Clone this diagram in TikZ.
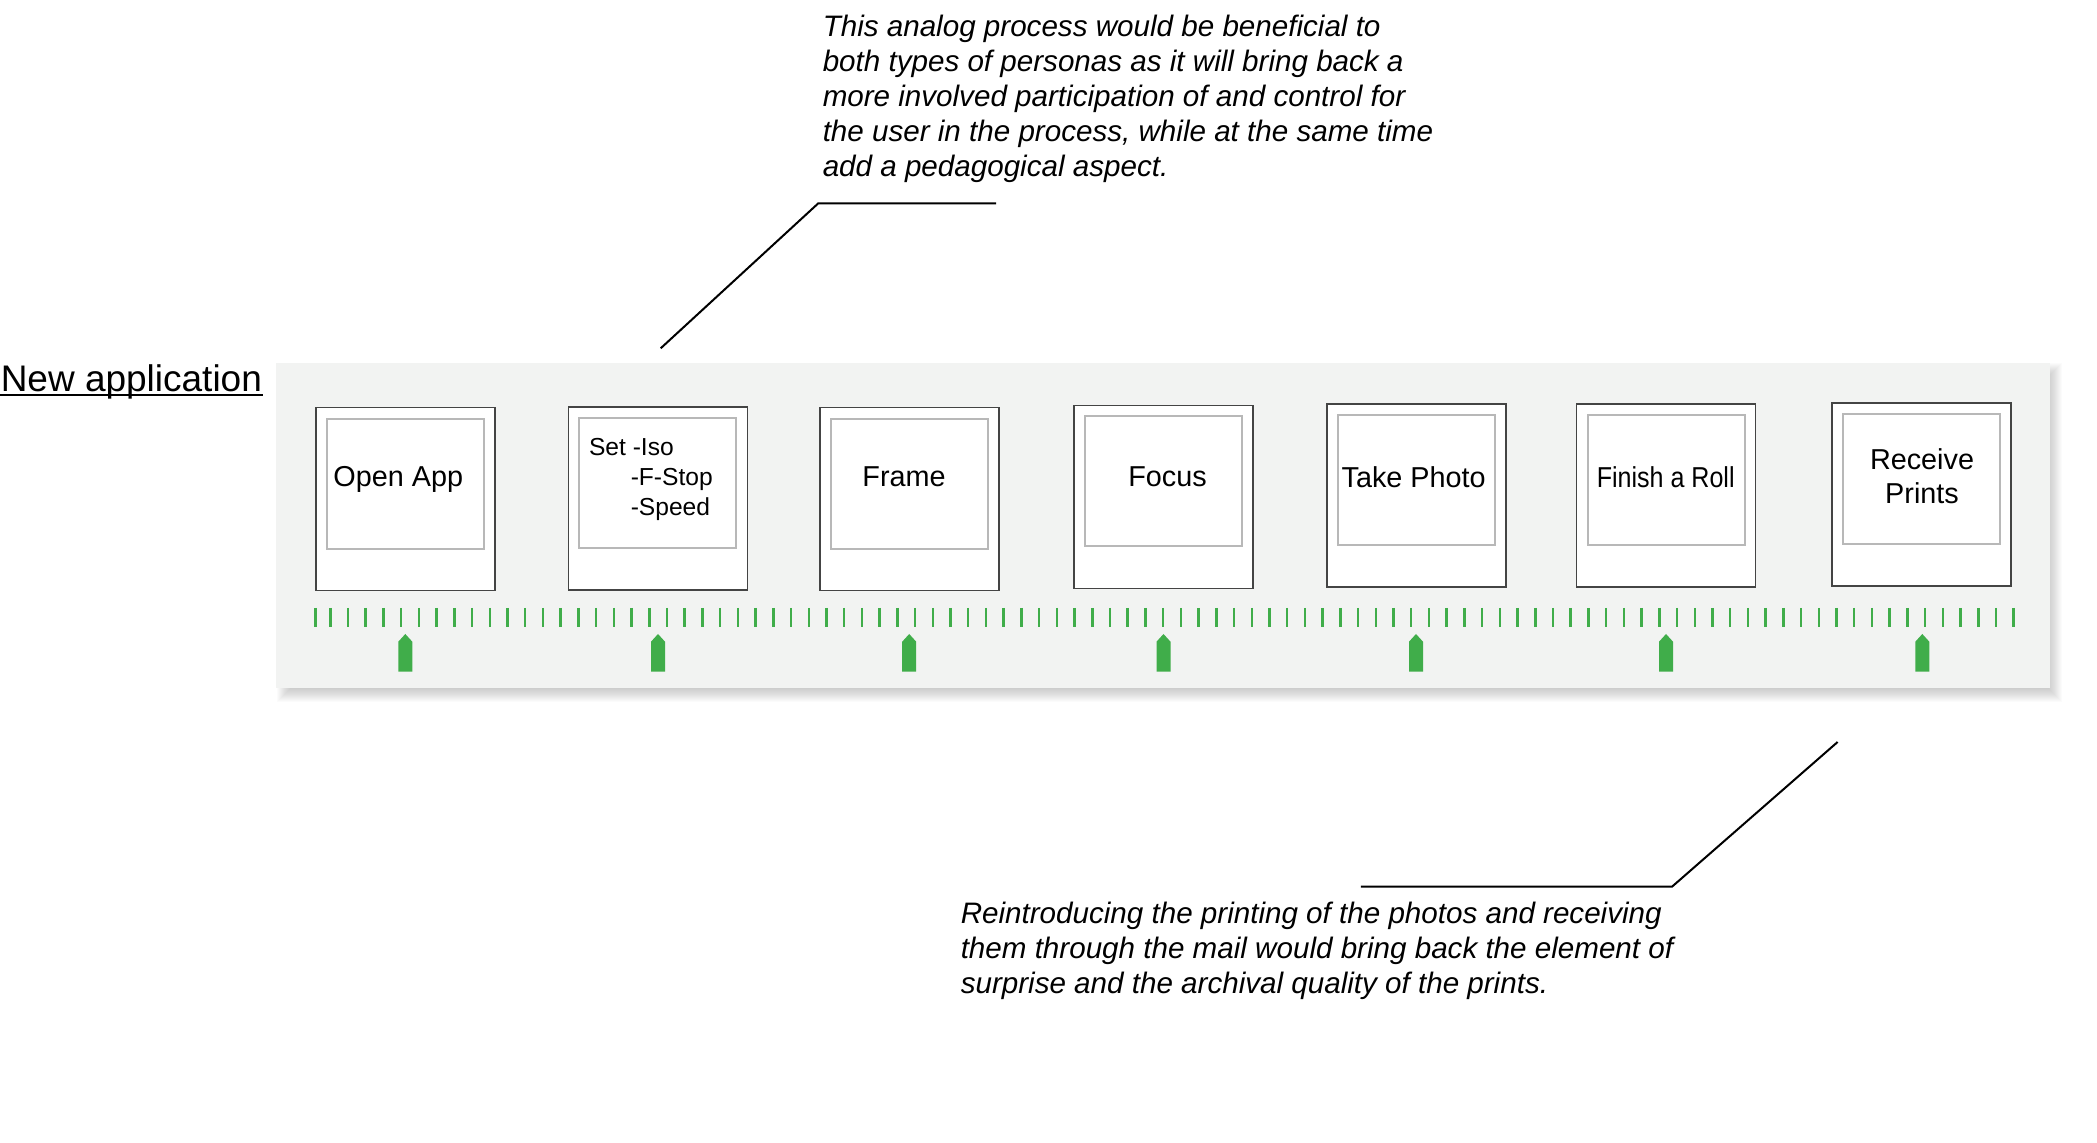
\documentclass[tikz,border=0pt]{standalone}
\usepackage{fontspec}
\setmainfont{Liberation Sans}

\definecolor{panelgray}{RGB}{242,243,242}
\definecolor{tickgreen}{RGB}{64,173,74}
\definecolor{framegray}{RGB}{68,68,68}
\definecolor{photogray}{RGB}{184,184,184}

\tikzset{every picture/.style={line width=0.75pt}}
\tikzset{
  polaroid/.style={draw=framegray, fill=white, line width=0.8},
  photo/.style={draw=photogray, line width=1},
  tick/.style={draw=tickgreen, line width=1.25},
  marker/.style={fill=tickgreen, draw=none},
  steplabel/.style={inner sep=0, font=\fontsize{14.4}{17}\selectfont},
  notetext/.style={inner sep=0, anchor=north west, align=left, font=\fontsize{14.8}{17.5}\selectfont\itshape},
  leader/.style={draw=black, line width=1}
}

\begin{document}
\begin{tikzpicture}[x=0.5pt,y=0.5pt,yscale=-1,xscale=1]
\useasboundingbox (0,0) rectangle (2097,1143);

%Shadow of the strip (soft)
\foreach \r in {-7,...,8}
  \fill [black, opacity=0.017] (285-\r,371-\r) rectangle (2054+\r,694+\r);
%Strip background
\fill [panelgray] (276,363) rectangle (2050,688);

%Polaroid frames: left x / top y
\foreach \fx/\fy in {315.7/407.7, 568.3/407, 820/407.7, 1074/405.5, 1327/404, 1576.5/404.3, 1832/403.3}{
  \draw [polaroid] (\fx,\fy) rectangle (\fx+179,\fy+183);
  \draw [photo] (\fx+11,\fy+11) rectangle (\fx+168,\fy+141);
}

%Green tick ruler
\draw [tick] (315.7,608) -- (315.7,627);
\foreach \k in {0,...,95}
  \draw [tick] (330.3+17.72*\k,608) -- (330.3+17.72*\k,627);

%Step markers
\foreach \mx in {405.3, 658, 909.2, 1163.5, 1416, 1666, 1922.3}
  \fill [marker] (\mx-7,671.7) -- (\mx-7,641.7) -- (\mx,634) -- (\mx+7,641.7) -- (\mx+7,671.7) -- cycle;

% Text Node
\draw (0,391.7) node (title) [anchor=base west, inner sep=0, font=\fontsize{18.5}{22}\selectfont] {New application};
\draw [line width=1] ([yshift=1.6pt]title.base west) -- ([yshift=1.6pt]title.base east);

% Text Node
\draw (332.7,486.7) node (lblOpen) [steplabel, anchor=base west] {Open App};
% Text Node
\draw (588.3,456) node (lblSet) [steplabel, anchor=base west, font=\fontsize{12.3}{15}\selectfont] {Set -Iso};
% Text Node
\draw (630,486) node (lblStop) [steplabel, anchor=base west, font=\fontsize{12.3}{15}\selectfont] {-F-Stop};
% Text Node
\draw (630,515.7) node (lblSpeed) [steplabel, anchor=base west, font=\fontsize{12.3}{15}\selectfont] {-Speed};
% Text Node
\draw (904,487) node (lblFrame) [steplabel, anchor=base] {Frame};
% Text Node
\draw (1167.5,487) node (lblFocus) [steplabel, anchor=base] {Focus};
% Text Node
\draw (1413.6,488) node (lblTake) [steplabel, anchor=base] {Take Photo};
% Text Node
\draw (1665.7,488) node (lblRoll) [steplabel, anchor=base] {\scalebox{0.87}[1]{Finish a Roll}};
% Text Node
\draw (1922,469.3) node (lblReceive) [steplabel, anchor=base] {Receive};
% Text Node
\draw (1922,504) node (lblPrints) [steplabel, anchor=base] {Prints};

% Text Node
\draw (822,14.4) node (noteTop) [notetext] {This analog process would be beneficial to\\both types of personas as it will bring back a\\more involved participation of and control for\\the user in the process, while at the same time\\add a pedagogical aspect.};
% Text Node
\draw (960,901.4) node (noteBottom) [notetext] {Reintroducing the printing of the photos and receiving\\them through the mail would bring back the element of\\surprise and the archival quality of the prints.};

%Leader lines
\coordinate (topEnd) at (660.7,348.3);
\coordinate (topKnee) at (818.3,203.3);
\coordinate (topStart) at (996,203.3);
\draw [leader] (topEnd) -- (topKnee) -- (topStart);
\coordinate (botEnd) at (1837.6,742);
\coordinate (botKnee) at (1672,886.7);
\coordinate (botStart) at (1360.8,886.7);
\draw [leader] (botEnd) -- (botKnee) -- (botStart);

\end{tikzpicture}
\end{document}
